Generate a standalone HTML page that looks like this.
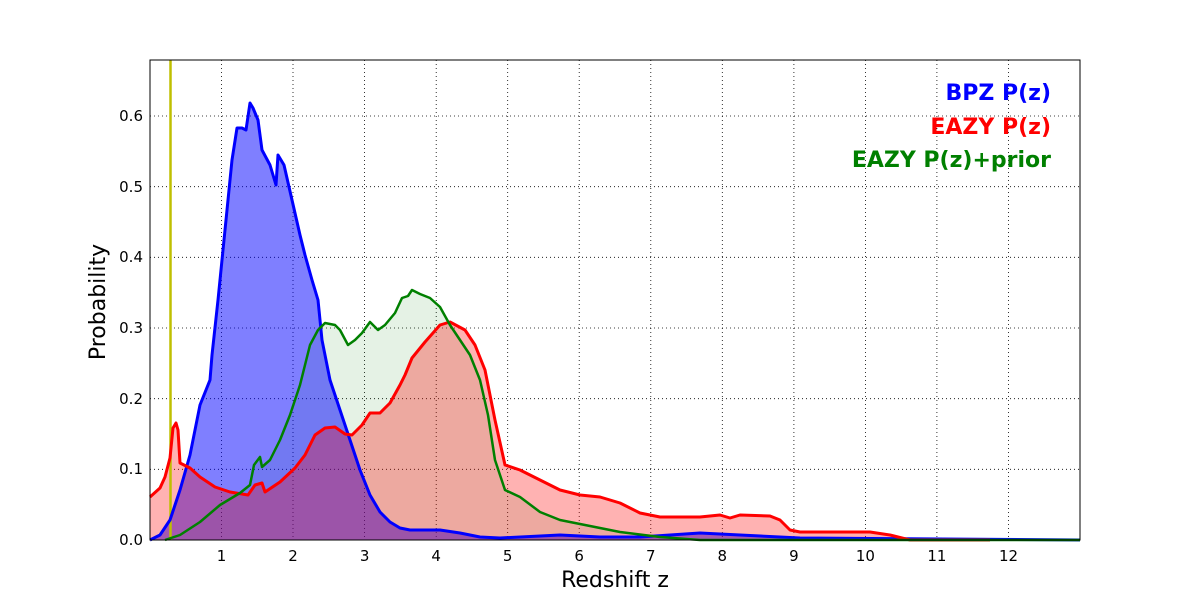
<!DOCTYPE html>
<html><head><meta charset="utf-8"><style>body{margin:0;background:#fff}svg{display:block}text{font-family:"DejaVu Sans","Liberation Sans",sans-serif}</style></head>
<body>
<svg width="1200" height="600" viewBox="0 0 1200 600" xmlns="http://www.w3.org/2000/svg">
<rect width="1200" height="600" fill="#fff"/>
<g stroke="#000" stroke-dasharray="1,3" stroke-width="0.8">
<line x1="221.5" y1="60" x2="221.5" y2="540"/><line x1="293" y1="60" x2="293" y2="540"/><line x1="364.6" y1="60" x2="364.6" y2="540"/><line x1="436.2" y1="60" x2="436.2" y2="540"/><line x1="507.7" y1="60" x2="507.7" y2="540"/><line x1="579.2" y1="60" x2="579.2" y2="540"/><line x1="650.8" y1="60" x2="650.8" y2="540"/><line x1="722.3" y1="60" x2="722.3" y2="540"/><line x1="793.9" y1="60" x2="793.9" y2="540"/><line x1="865.4" y1="60" x2="865.4" y2="540"/><line x1="936.9" y1="60" x2="936.9" y2="540"/><line x1="1008.5" y1="60" x2="1008.5" y2="540"/>
<line x1="150" y1="469.3" x2="1080" y2="469.3"/><line x1="150" y1="398.7" x2="1080" y2="398.7"/><line x1="150" y1="328" x2="1080" y2="328"/><line x1="150" y1="257.3" x2="1080" y2="257.3"/><line x1="150" y1="186.7" x2="1080" y2="186.7"/><line x1="150" y1="116" x2="1080" y2="116"/>
</g>
<polygon fill="rgba(0,128,0,0.1)" points="165,540 180,535 200,522 220,505 240,493 250,485 254,465 260,457 262,467 270,460 280,440 290,415 300,385 310,345 318,330 325,323 335,325 340,330 348,345 355,340 362,333 370,322 378,330 385,325 395,313 402,298 408,296 412,290 420,294 430,298 440,307 450,325 460,340 470,355 480,380 488,415 495,460 505,490 520,497 540,512 560,520 580,524 620,532 660,537 700,540"/>
<polygon fill="rgba(0,0,255,0.5)" points="150,540 160,535 170,520 180,490 190,455 200,405 210,380 212,355 218,300 225,230 232,160 237,128 242,128 246,130 250,103 253,108 258,120 262,150 270,165 276,185 278,155 284,165 292,200 300,235 305,255 312,280 318,300 322,340 330,380 340,410 350,440 360,470 370,495 380,512 390,522 400,528 410,530 440,530 460,533 480,537 500,538 560,535 600,537 640,537 700,533 740,535 780,537 800,538 1080,540 150,540"/>
<polygon fill="rgba(255,0,0,0.3)" points="150,540 150,497 160,488 165,477 170,458 173,428 176,423 178,430 180,463 190,468 200,477 215,487 230,492 248,495 255,485 262,483 265,492 280,482 295,468 305,455 315,435 325,428 335,427 345,434 352,435 362,425 370,413 380,413 390,403 400,385 405,375 412,358 425,342 440,325 450,322 465,330 475,345 485,370 495,420 505,465 520,470 540,480 560,490 580,495 600,497 620,503 640,513 660,517 700,517 720,515 730,518 740,515 770,516 780,520 790,530 800,532 870,532 890,535 910,540 990,540"/>
<line x1="170.5" y1="60" x2="170.5" y2="540" stroke="#bfbf00" stroke-width="2.5"/>
<polyline fill="none" stroke="#0000ff" stroke-width="3" stroke-linejoin="round" points="150,540 160,535 170,520 180,490 190,455 200,405 210,380 212,355 218,300 225,230 232,160 237,128 242,128 246,130 250,103 253,108 258,120 262,150 270,165 276,185 278,155 284,165 292,200 300,235 305,255 312,280 318,300 322,340 330,380 340,410 350,440 360,470 370,495 380,512 390,522 400,528 410,530 440,530 460,533 480,537 500,538 560,535 600,537 640,537 700,533 740,535 780,537 800,538 1080,540"/>
<polyline fill="none" stroke="#ff0000" stroke-width="3" stroke-linejoin="round" points="150,497 160,488 165,477 170,458 173,428 176,423 178,430 180,463 190,468 200,477 215,487 230,492 248,495 255,485 262,483 265,492 280,482 295,468 305,455 315,435 325,428 335,427 345,434 352,435 362,425 370,413 380,413 390,403 400,385 405,375 412,358 425,342 440,325 450,322 465,330 475,345 485,370 495,420 505,465 520,470 540,480 560,490 580,495 600,497 620,503 640,513 660,517 700,517 720,515 730,518 740,515 770,516 780,520 790,530 800,532 870,532 890,535 910,540 990,540"/>
<polyline fill="none" stroke="#008000" stroke-width="2.5" stroke-linejoin="round" points="165,540 180,535 200,522 220,505 240,493 250,485 254,465 260,457 262,467 270,460 280,440 290,415 300,385 310,345 318,330 325,323 335,325 340,330 348,345 355,340 362,333 370,322 378,330 385,325 395,313 402,298 408,296 412,290 420,294 430,298 440,307 450,325 460,340 470,355 480,380 488,415 495,460 505,490 520,497 540,512 560,520 580,524 620,532 660,537 700,540 1080,540"/>
<rect x="150" y="60" width="930" height="480" fill="none" stroke="#000" stroke-width="1"/>
<g font-size="15" fill="#000" text-anchor="middle">
<text x="221.5" y="561">1</text><text x="293" y="561">2</text><text x="364.6" y="561">3</text><text x="436.2" y="561">4</text><text x="507.7" y="561">5</text><text x="579.2" y="561">6</text><text x="650.8" y="561">7</text><text x="722.3" y="561">8</text><text x="793.9" y="561">9</text><text x="865.4" y="561">10</text><text x="936.9" y="561">11</text><text x="1008.5" y="561">12</text>
</g>
<g font-size="15" fill="#000" text-anchor="end">
<text x="143" y="545">0.0</text><text x="143" y="474">0.1</text><text x="143" y="404">0.2</text><text x="143" y="333">0.3</text><text x="143" y="262">0.4</text><text x="143" y="192">0.5</text><text x="143" y="121">0.6</text>
</g>
<text x="615" y="587" font-size="22" text-anchor="middle">Redshift z</text>
<text transform="translate(105,302) rotate(-90)" font-size="22" text-anchor="middle">Probability</text>
<g font-size="22" font-weight="bold" text-anchor="end">
<text x="1051" y="100" fill="#0000ff">BPZ P(z)</text>
<text x="1051" y="134" fill="#ff0000">EAZY P(z)</text>
<text x="1051" y="167" fill="#008000">EAZY P(z)+prior</text>
</g>
</svg>
</body></html>
